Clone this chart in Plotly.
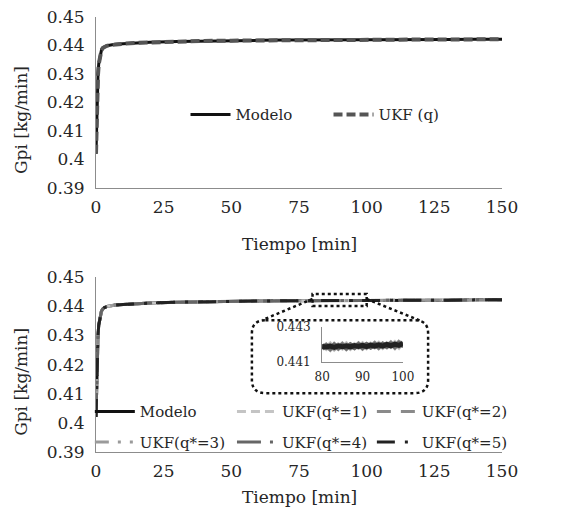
import plotly.graph_objects as go

# ---------------- data ----------------
tiempo = [0, 0.25, 0.5, 0.75, 1, 1.5, 2, 2.5, 3, 4, 5, 7, 10, 15, 20, 30, 40, 50,
          60, 70, 80, 90, 100, 110, 120, 130, 140, 150]
modelo = [0.4020, 0.4150, 0.4240, 0.4300, 0.4335, 0.4368, 0.4383, 0.4391, 0.4395,
          0.4399, 0.4401, 0.4404, 0.4406, 0.4409, 0.4411, 0.4414, 0.4416, 0.4417,
          0.4418, 0.4419, 0.4419, 0.4420, 0.4420, 0.4421, 0.4421, 0.4421, 0.4422, 0.4422]
ukf_q = [0.4020, 0.4148, 0.4238, 0.4299, 0.4334, 0.4367, 0.4383, 0.4391, 0.4395,
         0.4399, 0.4401, 0.4404, 0.4406, 0.4409, 0.4411, 0.4414, 0.4416, 0.4417,
         0.4418, 0.4419, 0.4419, 0.4420, 0.4420, 0.4421, 0.4421, 0.4421, 0.4422, 0.4422]
ukf_1 = [0.4020, 0.4146, 0.4236, 0.4298, 0.4333, 0.4367, 0.4382, 0.4391, 0.4395,
         0.4399, 0.4401, 0.4404, 0.4406, 0.4409, 0.4411, 0.4414, 0.4416, 0.4417,
         0.4418, 0.4419, 0.4419, 0.4420, 0.4421, 0.4421, 0.4421, 0.4422, 0.4422, 0.4422]
ukf_2 = [0.4020, 0.4147, 0.4237, 0.4298, 0.4334, 0.4367, 0.4383, 0.4391, 0.4395,
         0.4399, 0.4401, 0.4404, 0.4406, 0.4409, 0.4411, 0.4414, 0.4416, 0.4417,
         0.4418, 0.4419, 0.4419, 0.4420, 0.4420, 0.4421, 0.4421, 0.4421, 0.4422, 0.4422]
ukf_3 = [0.4020, 0.4148, 0.4238, 0.4299, 0.4334, 0.4368, 0.4383, 0.4391, 0.4395,
         0.4399, 0.4401, 0.4404, 0.4406, 0.4409, 0.4411, 0.4414, 0.4416, 0.4417,
         0.4418, 0.4419, 0.4419, 0.4420, 0.4420, 0.4421, 0.4421, 0.4421, 0.4422, 0.4422]
ukf_4 = [0.4020, 0.4149, 0.4239, 0.4299, 0.4335, 0.4368, 0.4383, 0.4391, 0.4395,
         0.4399, 0.4401, 0.4404, 0.4406, 0.4409, 0.4411, 0.4414, 0.4416, 0.4417,
         0.4418, 0.4419, 0.4419, 0.4420, 0.4420, 0.4421, 0.4421, 0.4421, 0.4422, 0.4422]
ukf_5 = [0.4020, 0.4150, 0.4240, 0.4300, 0.4335, 0.4368, 0.4383, 0.4391, 0.4395,
         0.4399, 0.4401, 0.4404, 0.4406, 0.4409, 0.4411, 0.4414, 0.4416, 0.4417,
         0.4418, 0.4419, 0.4419, 0.4420, 0.4420, 0.4421, 0.4421, 0.4421, 0.4422, 0.4422]

# zoomed window 80-100 min
zoom_t = [80, 81, 82, 83, 84, 85, 86, 87, 88, 89, 90, 91, 92, 93, 94, 95, 96, 97, 98, 99, 100]
zoom_modelo = [0.44186, 0.44186, 0.44187, 0.44187, 0.44188, 0.44188, 0.44189, 0.44189,
               0.44190, 0.44190, 0.44191, 0.44191, 0.44192, 0.44192, 0.44193, 0.44193,
               0.44194, 0.44194, 0.44195, 0.44195, 0.44196]
zoom_1 = [0.44197, 0.44178, 0.44200, 0.44175, 0.44196, 0.44180, 0.44201, 0.44179, 0.44198,
          0.44184, 0.44202, 0.44182, 0.44200, 0.44187, 0.44205, 0.44184, 0.44203, 0.44188,
          0.44208, 0.44186, 0.44214]
zoom_2 = [0.44176, 0.44195, 0.44174, 0.44198, 0.44178, 0.44199, 0.44177, 0.44197, 0.44181,
          0.44201, 0.44180, 0.44199, 0.44185, 0.44204, 0.44183, 0.44202, 0.44187, 0.44207,
          0.44184, 0.44210, 0.44193]
zoom_3 = [0.44192, 0.44182, 0.44194, 0.44178, 0.44191, 0.44184, 0.44196, 0.44181, 0.44193,
          0.44186, 0.44198, 0.44184, 0.44196, 0.44188, 0.44200, 0.44187, 0.44199, 0.44191,
          0.44203, 0.44190, 0.44208]
zoom_4 = [0.44180, 0.44192, 0.44179, 0.44195, 0.44181, 0.44194, 0.44180, 0.44196, 0.44183,
          0.44197, 0.44184, 0.44198, 0.44186, 0.44199, 0.44187, 0.44200, 0.44189, 0.44202,
          0.44190, 0.44205, 0.44198]
zoom_5 = [0.44188, 0.44185, 0.44190, 0.44183, 0.44191, 0.44186, 0.44192, 0.44185, 0.44193,
          0.44188, 0.44194, 0.44187, 0.44196, 0.44190, 0.44197, 0.44190, 0.44199, 0.44192,
          0.44201, 0.44194, 0.44204]

x_ticks = [0, 25, 50, 75, 100, 125, 150]
y_ticks = [0.39, 0.40, 0.41, 0.42, 0.43, 0.44, 0.45]
y_tick_text = ["0.39", "0.4", "0.41", "0.42", "0.43", "0.44", "0.45"]
zoom_x_ticks = [80, 90, 100]
zoom_y_ticks = [0.441, 0.443]
x_title = "Tiempo [min]"
y_title = "Gpi [kg/min]"

# ---------------- figure ----------------
FONT = "DejaVu Serif"
TXT = "#262626"

# (name, main values, zoom values, colour, dash, legend column)
bottom_series = [
    ("Modelo", modelo, zoom_modelo, "#111111", "solid", "legend2"),
    ("UKF(q*=1)", ukf_1, zoom_1, "#c4c4c4", "9px,5px", "legend3"),
    ("UKF(q*=2)", ukf_2, zoom_2, "#8a8a8a", "14px,10px", "legend4"),
    ("UKF(q*=3)", ukf_3, zoom_3, "#9a9a9a", "14px,9px,3px,9px,3px,9px", "legend2"),
    ("UKF(q*=4)", ukf_4, zoom_4, "#666666", "24px,9px,3px,9px", "legend3"),
    ("UKF(q*=5)", ukf_5, zoom_5, "#222222", "18px,10px,3px,10px", "legend4"),
]

fig = go.Figure()

# top panel
fig.add_trace(go.Scatter(x=tiempo, y=modelo, mode="lines", name="Modelo",
                         line=dict(color="#111111", width=3), xaxis="x", yaxis="y",
                         legend="legend"))
fig.add_trace(go.Scatter(x=tiempo, y=ukf_q, mode="lines", name="UKF (q)",
                         line=dict(color="#555555", width=4, dash="9px,4px"),
                         xaxis="x", yaxis="y", legend="legend"))

# bottom panel
for name, yv, zv, col, dash, leg in bottom_series:
    fig.add_trace(go.Scatter(x=tiempo, y=yv, mode="lines", name=name,
                             line=dict(color=col, width=3, dash=dash),
                             xaxis="x2", yaxis="y2", legend=leg, legendgroup=name))
for name, yv, zv, col, dash, leg in bottom_series:
    fig.add_trace(go.Scatter(x=zoom_t, y=zv, mode="lines", name=name, showlegend=False,
                             line=dict(color=col, width=5),
                             xaxis="x3", yaxis="y3"))

axis_common = dict(showgrid=False, zeroline=False, showline=True, linecolor="#8c8c8c",
                   linewidth=1, ticks="", mirror=False, ticklabeloverflow="allow",
                   tickfont=dict(family=FONT, size=17, color=TXT))
title_font = dict(family=FONT, size=17, color=TXT)
legend_common = dict(xref="container", yref="container", bgcolor="rgba(0,0,0,0)",
                     font=dict(family=FONT, size=15, color=TXT), itemwidth=40)

# the page adds an 8px body margin, so the figure is 553x504
W, H = 553, 504
fig.update_layout(
    width=W, height=H,
    margin=dict(l=88, r=59, t=9, b=60, autoexpand=False),
    paper_bgcolor="white", plot_bgcolor="white",
    font=dict(family=FONT, color=TXT),
    showlegend=True,
    xaxis=dict(domain=[0, 1], anchor="y", range=[0, 150], tickvals=x_ticks,
               ticklabelstandoff=4, **axis_common),
    yaxis=dict(domain=[0.607, 1], anchor="x", range=[0.39, 0.45], tickvals=y_ticks,
               ticktext=y_tick_text, ticklabelstandoff=7, **axis_common),
    xaxis2=dict(domain=[0, 1], anchor="y2", range=[0, 150], tickvals=x_ticks,
                ticklabelstandoff=4, **axis_common),
    yaxis2=dict(domain=[0, 0.402], anchor="x2", range=[0.39, 0.45], tickvals=y_ticks,
                ticktext=y_tick_text, ticklabelstandoff=7, **axis_common),
    xaxis3=dict(domain=[0.557, 0.756], anchor="y3", range=[80, 100], tickvals=zoom_x_ticks,
                showgrid=False, zeroline=False, showline=True, linecolor="#8c8c8c",
                ticklabelstandoff=4, tickfont=dict(family=FONT, size=12, color=TXT)),
    yaxis3=dict(domain=[0.207, 0.288], anchor="x3", range=[0.441, 0.443],
                tickvals=zoom_y_ticks, tickformat=".3f",
                showgrid=False, zeroline=False, showline=True, linecolor="#8c8c8c",
                ticklabelstandoff=8, tickfont=dict(family=FONT, size=12, color=TXT)),
    legend=dict(orientation="h", x=0.321, y=0.788, xanchor="left", yanchor="middle",
                entrywidth=88, entrywidthmode="pixels", **legend_common),
    legend2=dict(orientation="v", x=0.148, y=0.169, xanchor="left", yanchor="middle",
                 tracegroupgap=8, **legend_common),
    legend3=dict(orientation="v", x=0.405, y=0.169, xanchor="left", yanchor="middle",
                 tracegroupgap=8, **legend_common),
    legend4=dict(orientation="v", x=0.658, y=0.169, xanchor="left", yanchor="middle",
                 tracegroupgap=8, **legend_common),
)

# axis titles
for ypos in (0.478, -0.104):
    fig.add_annotation(text=x_title, xref="paper", yref="paper", x=0.5, y=ypos,
                       showarrow=False, xanchor="center", yanchor="middle",
                       font=title_font)
for ypos in (0.763, 0.161):
    fig.add_annotation(text=y_title, xref="paper", yref="paper", x=-0.185, y=ypos,
                       showarrow=False, xanchor="center", yanchor="middle",
                       textangle=-90, font=title_font)

# dotted callout: small box over 80-100, rounded box around inset, connectors
dot = dict(color="#111111", width=2.5, dash="dot")
fig.add_shape(type="rect", xref="x2", yref="y2", x0=80, x1=100, y0=0.4401, y1=0.4442,
              line=dot)
x0, x1, y0, y1, rx, ry = 57.6, 122.7, 0.4102, 0.4352, 5.0, 0.0045
path = (f"M {x0+rx},{y1} L {x1-rx},{y1} Q {x1},{y1} {x1},{y1-ry} L {x1},{y0+ry} "
        f"Q {x1},{y0} {x1-rx},{y0} L {x0+rx},{y0} Q {x0},{y0} {x0},{y0+ry} "
        f"L {x0},{y1-ry} Q {x0},{y1} {x0+rx},{y1} Z")
fig.add_shape(type="path", xref="x2", yref="y2", path=path, line=dot)
fig.add_shape(type="line", xref="x2", yref="y2", x0=80, y0=0.4425, x1=61.5, y1=0.4353,
              line=dot)
fig.add_shape(type="line", xref="x2", yref="y2", x0=100, y0=0.4425, x1=120.5, y1=0.4348,
              line=dot)

fig.write_html("out.html")
